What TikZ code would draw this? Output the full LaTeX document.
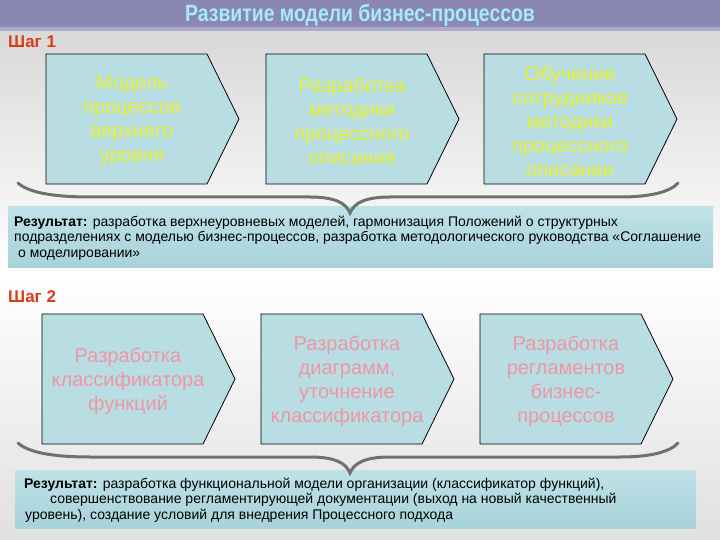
\documentclass[tikz,border=0pt]{standalone}
\usepackage{fontspec}
\setmainfont{Liberation Sans}
\usepackage{tikz}

\definecolor{titlebar}{RGB}{138,135,180}
\definecolor{titleline}{RGB}{172,170,206}
\definecolor{titletext}{RGB}{165,236,246}
\definecolor{stepred}{RGB}{214,62,22}
\definecolor{boxfill}{RGB}{184,222,228}
\definecolor{yellowtext}{RGB}{232,240,50}
\definecolor{pinktext}{RGB}{240,150,162}
\definecolor{bracegray}{RGB}{112,112,112}
\definecolor{bandtop}{RGB}{190,226,232}
\definecolor{bandbottom}{RGB}{168,210,217}

\tikzset{
  chevron/.style={draw=black, fill=boxfill, line width=0.8pt},
  boxtext/.style={align=center, inner sep=0pt, font=\fontsize{20}{24}\selectfont},
  bracecurve/.style={draw=bracegray, line width=3pt, line cap=round},
  resultband/.style={top color=bandtop, middle color=white, bottom color=bandbottom},
  result/.style={align=left, anchor=base west, inner sep=0pt, font=\fontsize{14}{15.5}\selectfont},
  steplabel/.style={anchor=west, inner sep=0pt, text=stepred, font=\bfseries\fontsize{17}{17}\selectfont}
}

\begin{document}
\begin{tikzpicture}[x=1pt, y=-1pt]
  \useasboundingbox (0,0) rectangle (720,540);
  \shade[top color=black!15, bottom color=white] (0,31) rectangle (720,275);
  \shade[top color=white, bottom color=black!12] (0,275) rectangle (720,540);
  \fill[titlebar] (0,0) rectangle (720,27);
  \fill[titleline] (0,27) rectangle (720,31);

  \node[text=titletext, font=\bfseries\fontsize{23.5}{23.5}\selectfont] (title) at (360,15)
    {\scalebox{0.826}[1]{Развитие модели бизнес-процессов}};

  \node[steplabel] (s1) at (8,42) {Шаг 1};
  \node[steplabel] (s2) at (8,297) {Шаг 2};

  \foreach \n/\x/\t in {m1/46/{Модель\\процессов\\верхнего\\уровня},
      m2/266/{Разработка\\методики\\процессного\\описания},
      m3/484/{Обучение\\сотрудников\\методики\\процессного\\описании}} {
    \draw[chevron] (\x,54) -- ++(161,0) -- ++(32,65) -- ++(-32,65) -- ++(-161,0) -- cycle;
    \node[boxtext, text=yellowtext] (\n) at (\x+86,121) {\t};
  }

  \foreach \n/\x/\t in {f1/42/{Разработка\\классификатора\\функций},
      f2/261/{Разработка\\диаграмм,\\уточнение\\классификатора},
      f3/480/{Разработка\\регламентов\\бизнес-\\процессов}} {
    \draw[chevron] (\x,314) -- ++(161,0) -- ++(32,65) -- ++(-32,65) -- ++(-161,0) -- cycle;
    \node[boxtext, text=pinktext] (\n) at (\x+86,381) {\t};
  }

  \shade[resultband] (8,207) rectangle (713,267);
  \shade[resultband] (15,470) rectangle (696,528);

  \foreach \y in {0,260} {
    \draw[bracecurve, shift={(0,\y)}] (18,183) .. controls (30,194) and (60,197) .. (90,197)
      -- (310,197) .. controls (335,197) and (346,203) .. (350,213)
      .. controls (354,203) and (365,197) .. (390,197)
      -- (620,197) .. controls (650,197) and (670,192) .. (678,183);
  }

  \node[result] (r1) at (14,257)
    {\textbf{Результат:} разработка верхнеуровневых моделей, гармонизация Положений о структурных\\
     подразделениях с моделью бизнес-процессов, разработка методологического руководства «Соглашение\\
     \hspace*{4pt}о моделировании»};
  \node[result] (r2) at (24,519)
    {\textbf{Результат:} разработка функциональной модели организации (классификатор функций),\\
     \hspace*{26pt}совершенствование регламентирующей документации (выход на новый качественный\\
     \hspace*{1pt}уровень), создание условий для внедрения Процессного подхода};
\end{tikzpicture}
\end{document}
